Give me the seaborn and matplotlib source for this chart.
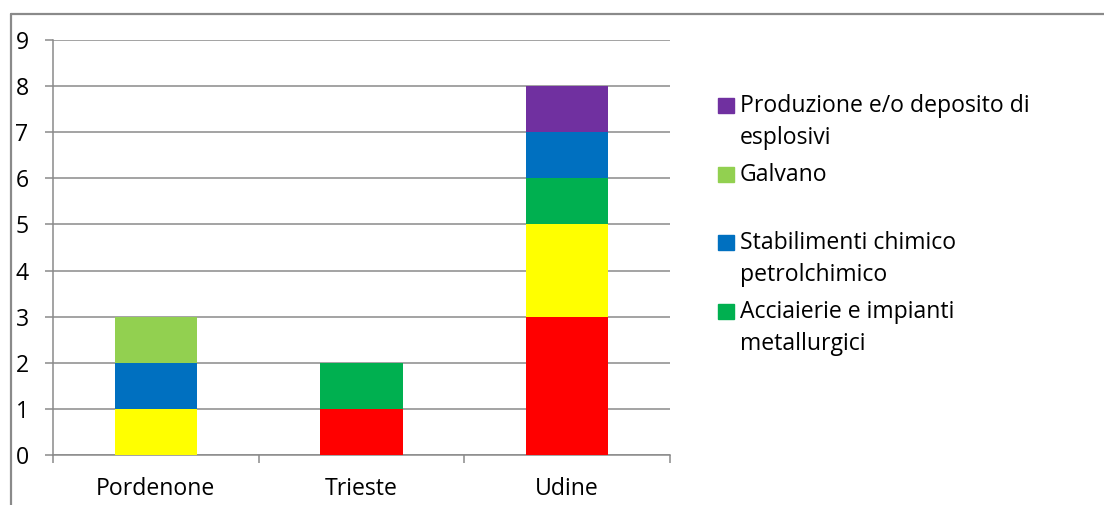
import matplotlib
matplotlib.use("Agg")
import matplotlib.pyplot as plt
from matplotlib.lines import Line2D
from matplotlib.patches import Rectangle
import pandas as pd
import seaborn as sns

# --- data ---
province = ["Pordenone", "Trieste", "Udine"]
# stacking order, bottom to top; the first two series names are cut off in the original legend
serie = ["Serie A", "Serie B", "Acciaierie e impianti metallurgici",
         "Stabilimenti chimico petrolchimico", "Galvano",
         "Produzione e/o deposito di esplosivi"]
colori = ["#FF0000", "#FFFF00", "#00B050", "#0070C0", "#92D050", "#7030A0"]
valori = {
    "Serie A": [0, 1, 3],
    "Serie B": [1, 0, 2],
    "Acciaierie e impianti metallurgici": [0, 1, 1],
    "Stabilimenti chimico petrolchimico": [1, 0, 1],
    "Galvano": [1, 0, 0],
    "Produzione e/o deposito di esplosivi": [0, 0, 1],
}
# legend entries as shown (wrapped lines), with the blank slot of the original
legenda = [
    (["Produzione e/o deposito di", "esplosivi"], "#7030A0"),
    (["Galvano"], "#92D050"),
    (None, None),
    (["Stabilimenti chimico", "petrolchimico"], "#0070C0"),
    (["Acciaierie e impianti", "metallurgici"], "#00B050"),
]

rows = []
for s in serie:
    for p, v in zip(province, valori[s]):
        rows.append({"provincia": p, "serie": s, "n": v})
df = pd.DataFrame(rows)

sns.set_style("white")
plt.rcParams["font.family"] = ["Open Sans", "DejaVu Sans"]
plt.rcParams["text.color"] = "black"
plt.rcParams["xtick.labelcolor"] = "black"
plt.rcParams["ytick.labelcolor"] = "black"
GRAY = "#8a8a8a"
FS = 16.6

fig = plt.figure(figsize=(11.04, 5.05), dpi=100)
ax = fig.add_axes([53 / 1104, 1 - 455 / 505, (670 - 53) / 1104, (455 - 40) / 505])

# seaborn stacks with the first hue level on top, so pass the order reversed
sns.histplot(data=df, x="provincia", hue="serie", weights="n", multiple="stack",
             discrete=True, shrink=0.4, hue_order=serie[::-1],
             palette=dict(zip(serie, colori)), alpha=1, linewidth=0,
             legend=False, ax=ax, zorder=3)

ax.set_xlim(-0.5, 2.5)
ax.set_ylim(0, 9)
ax.set_yticks(range(10))
ax.set_xticks(range(3))
ax.set_xticklabels(province)
ax.set_xticks([-0.5, 0.5, 1.5, 2.5], minor=True)
ax.set_xlabel("")
ax.set_ylabel("")
ax.grid(axis="y", color=GRAY, lw=1.1, zorder=0)
for side in ["top", "right"]:
    ax.spines[side].set_visible(False)
for side in ["left", "bottom"]:
    ax.spines[side].set_color(GRAY)
    ax.spines[side].set_linewidth(1.1)
ax.tick_params(axis="y", left=True, length=6, color=GRAY, width=1.1, pad=21, labelsize=FS)
for lab in ax.get_yticklabels():
    lab.set_horizontalalignment("left")
ax.tick_params(axis="x", which="major", bottom=False, length=0, pad=16, labelsize=FS)
ax.tick_params(axis="x", which="minor", bottom=True, length=6, color=GRAY, width=1.1)

# legend drawn by hand to keep the blank gap of the original
y = 112  # baseline of the first line, in pixels from the top
for righe, col in legenda:
    if righe is None:
        y += 31
        continue
    fig.add_artist(Rectangle((718 / 1104, 1 - (y + 1) / 505), 16 / 1104, 15 / 505,
                             transform=fig.transFigure, color=col))
    for riga in righe:
        fig.text(740 / 1104, 1 - y / 505, riga, fontsize=FS, va="baseline",
                 transform=fig.transFigure)
        y += 32
    y += 5

# outer chart frame (cut at right and bottom in the reference)
fig.add_artist(Line2D([11 / 1104, 11 / 1104], [0, 1 - 14 / 505], color=GRAY, lw=1.6))
fig.add_artist(Line2D([11 / 1104, 1], [1 - 14 / 505, 1 - 14 / 505], color=GRAY, lw=1.6))

fig.savefig("out.png", dpi=100)
